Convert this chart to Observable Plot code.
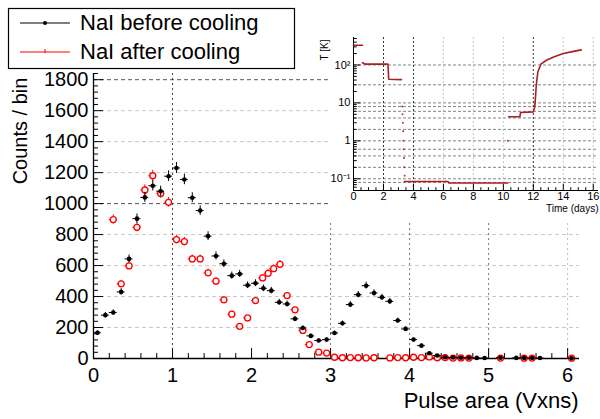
<!DOCTYPE html>
<html><head><meta charset="utf-8">
<script src="https://cdn.jsdelivr.net/npm/d3@7"></script>
<script src="https://cdn.jsdelivr.net/npm/@observablehq/plot@0.6"></script>
<style>
body{margin:0;background:#fff;}
#wrap{position:relative;width:600px;height:419px;overflow:hidden;font-family:"Liberation Sans",Arial,Helvetica,sans-serif;}
#wrap > *{position:absolute;}
</style></head><body><div id="wrap"></div>
<script>
// ---- main histogram: NaI before cooling (black) ----
const beforeArea = [0.05,0.15,0.25,0.35,0.45,0.55,0.65,0.75,0.85,0.95,1.05,1.15,1.25,1.35,1.45,1.55,1.65,1.75,1.85,1.95,2.05,2.15,2.25,2.35,2.45,2.55,2.65,2.75,2.85,2.95,3.05,3.15,3.25,3.35,3.45,3.55,3.65,3.75,3.85,3.95,4.05,4.15,4.25,4.35,4.45,4.55,4.65,4.75,4.85,4.95,5.15,5.35,5.45,5.55,5.65,6.05];
const beforeCounts = [166,280,297,430,643,903,1040,1115,1080,1177,1230,1156,1038,955,790,662,612,535,546,473,486,453,438,363,352,256,197,146,116,122,165,227,348,412,470,423,395,369,245,191,122,83,34,19,8,6,5,5,4,3,5,4,4,3,3,2];
// ---- NaI after cooling (red) ----
const afterArea = [0.25,0.35,0.45,0.55,0.65,0.75,0.85,0.95,1.05,1.15,1.25,1.35,1.45,1.55,1.65,1.75,1.85,1.95,2.05,2.14,2.21,2.28,2.36,2.45,2.55,2.65,2.73,2.85,2.95,3.05,3.15,3.25,3.35,3.45,3.55,3.75,3.85,3.95,4.05,4.15,4.25,4.35,4.45,4.55,4.65,4.75,5.15,5.45,5.55,6.05];
const afterCounts = [897,482,598,847,1088,1180,1066,1008,768,755,643,643,553,499,379,286,208,262,374,520,550,580,608,406,314,181,90,41,35,8,5,6,5,4,5,4,6,5,8,6,10,5,6,3,4,3,3,2,3,2];
const xTicks = [0,1,2,3,4,5,6];
const yTicks = [0,200,400,600,800,1000,1200,1400,1600,1800];
const legendLabels = ["NaI before cooling","NaI after cooling"];
const legendColors = ["#000000","#ff0000"];
const xTitle = "Pulse area (Vxns)";
const yTitle = "Counts / bin";
// ---- inset: temperature history ----
const timeDays = [0,0.6, 0.6,0.8,2.3,2.35,3.2, 3.4,6.3,6.35,10.3, 10.35,11.1,11.15,12.0,12.1,12.2,12.3,12.5,12.9,13.4,14.0,14.6,15.2];
const tempK    = [330,330, 115,105,105,42,41, 0.085,0.085,0.078,0.077, 4.3,4.3,5.6,5.8,8,30,65,105,135,165,200,225,250];
const tempSeg  = [0,0, 1,1,1,1,1, 2,2,2,2, 3,3,3,3,3,3,3,3,3,3,3,3,3];
const dropDays = [3.25,3.27,3.29,3.31,3.33,3.35,3.37,3.39,3.41,10.3];
const dropK    = [8,5,3,1.8,1.0,0.6,0.35,0.2,0.12,1.0];
const timeTicks = [0,2,4,6,8,10,12,14,16];
const tempTicks = [0.1,1,10,100];
const tempTickLabels = ["10\u207B\u00B9","1","10","10\u00B2"];
const insetXTitle = "Time (days)";
const insetYTitle = "T [K]";

const font = '"Liberation Sans",Arial,Helvetica,sans-serif';
const wrap = document.getElementById("wrap");

const before = beforeArea.map((x,i)=>({x, v: beforeCounts[i]}));
const after = afterArea.map((x,i)=>({x, v: afterCounts[i]}));

const minorX = d3.range(0, 6.11, 0.2).filter(v => Math.abs(v - Math.round(v)) > 1e-6);
const minorY = d3.range(0, 1841, 40).filter(v => v % 200 !== 0);

const main = Plot.plot({
  width: 600, height: 419,
  marginLeft: 93, marginRight: 21, marginTop: 73, marginBottom: 61,
  style: {fontFamily: font, fontSize: "20px", background: "transparent", color: "#000"},
  x: {domain: [0, 6.15]},
  y: {domain: [0, 1840]},
  marks: [
    Plot.ruleY(yTicks.filter(v => v > 0 && v !== 1000 && v !== 1800), {stroke: "#c8c8c8", strokeDasharray: "4,3"}),
    Plot.ruleY([1000, 1800], {stroke: "#555", strokeDasharray: "4,3"}),
    Plot.ruleX([1], {stroke: "#444", strokeDasharray: "2,3"}),
    Plot.ruleX([3,4,5], {stroke: "#777", strokeDasharray: "2,3"}),
    Plot.ruleX([6], {stroke: "#bbb", strokeDasharray: "2,3"}),
    Plot.ruleX(xTicks, {y1: 0, y2: 64, stroke: "#000"}),
    Plot.ruleX(minorX, {y1: 0, y2: 32, stroke: "#000"}),
    Plot.ruleY(yTicks, {x1: 0, x2: 0.127, stroke: "#000"}),
    Plot.ruleY(minorY, {x1: 0, x2: 0.063, stroke: "#000"}),
    Plot.ruleX([0], {stroke: "#000", strokeWidth: 1.3}),
    Plot.ruleY([0], {stroke: "#000", strokeWidth: 1.3}),
    // after cooling (red)
    Plot.ruleY(after, {y: "v", x1: d => d.x - 0.05, x2: d => d.x + 0.05, stroke: "#ff0000"}),
    Plot.ruleX(after, {x: "x", y1: d => d.v - Math.sqrt(d.v), y2: d => d.v + Math.sqrt(d.v), stroke: "#ff0000"}),
    Plot.dot(after, {x: "x", y: "v", r: 3, stroke: "#ff0000", fill: "white", strokeWidth: 1.3}),
    // before cooling (black)
    Plot.ruleY(before, {y: "v", x1: d => d.x - 0.05, x2: d => d.x + 0.05, stroke: "#000"}),
    Plot.ruleX(before, {x: "x", y1: d => d.v - Math.sqrt(d.v), y2: d => d.v + Math.sqrt(d.v), stroke: "#000"}),
    Plot.dot(before, {x: "x", y: "v", r: 2.3, fill: "#000"}),
    Plot.axisX(xTicks, {tickSize: 0, tickPadding: 9, label: null, tickFormat: d3.format("d")}),
    Plot.axisY(yTicks, {tickSize: 0, tickPadding: 5, label: null, tickFormat: d3.format("d")}),
    Plot.text([xTitle], {frameAnchor: "bottom-right", textAnchor: "end", dx: -1, dy: 49, fontSize: 22})
  ]
});
main.style.left = "0px"; main.style.top = "0px";
wrap.appendChild(main);

// inset
const temp = timeDays.map((d,i)=>({d, k: tempK[i], s: tempSeg[i]}));
const drop = dropDays.map((d,i)=>({d, k: dropK[i]}));
const gridK = [0.08,0.1,0.2,0.4,0.6,1,2,4,6,8,10,30,100];
const minorK = [];
[0.1,1,10,100].forEach(dec => { for (let m=2;m<=9;m++){ const v=dec*m; if (v<530) minorK.push(v);} });
minorK.push(0.06,0.07,0.08,0.09);
const minorT = d3.range(0, 16.4, 0.5).filter(v => v % 2 !== 0);

const inset = Plot.plot({
  width: 270, height: 220,
  marginLeft: 23, marginRight: 2, marginTop: 37, marginBottom: 30,
  style: {fontFamily: font, fontSize: "11px", background: "white", color: "#000"},
  x: {domain: [0, 16.35]},
  y: {type: "log", domain: [0.049, 530]},
  marks: [
    Plot.ruleY(gridK, {stroke: "#666", strokeDasharray: "3,2", strokeWidth: 0.8}),
    Plot.ruleX([6,8,10,14,16], {stroke: "#bbb", strokeDasharray: "2,2", strokeWidth: 0.8}),
    Plot.ruleX([2,4,12], {stroke: "#333", strokeDasharray: "2,2", strokeWidth: 1}),
    Plot.ruleX(timeTicks, {y1: 0.049, y2: 0.072, stroke: "#000"}),
    Plot.ruleX(minorT, {y1: 0.049, y2: 0.058, stroke: "#000"}),
    Plot.ruleY(tempTicks, {x1: 0, x2: 0.5, stroke: "#000"}),
    Plot.ruleY(minorK, {x1: 0, x2: 0.25, stroke: "#000"}),
    Plot.ruleX([0], {stroke: "#000"}),
    Plot.ruleY([0.049], {stroke: "#000"}),
    Plot.line(temp, {x: "d", y: "k", z: "s", stroke: "#a82020", strokeWidth: 1.6}),
    Plot.dot(drop, {x: "d", y: "k", r: 1, fill: "#c03030"}),
    Plot.axisX(timeTicks, {tickSize: 0, tickPadding: 2, label: null}),
    Plot.axisY(tempTicks, {tickSize: 0, tickPadding: 3, label: null, tickFormat: d => tempTickLabels[tempTicks.indexOf(d)]}),
    Plot.text([insetXTitle], {frameAnchor: "bottom-right", textAnchor: "end", dy: 21, fontSize: 10})
  ]
});
inset.style.left = "330px"; inset.style.top = "0px";
wrap.appendChild(inset);

// axis titles overlay
const ov = d3.create("svg").attr("width", 600).attr("height", 419).style("left","0px").style("top","0px")
  .attr("font-family", font).style("pointer-events", "none");
ov.append("text").attr("transform", "translate(27,131) rotate(-90)").attr("text-anchor", "middle")
  .attr("font-size", 20).attr("fill", "#000").text(yTitle);
ov.append("text").attr("transform", "translate(328,50) rotate(-90)").attr("text-anchor", "middle")
  .attr("font-size", 10).attr("fill", "#000").text(insetYTitle);
wrap.appendChild(ov.node());

// legend
const lg = d3.create("svg").attr("width", 300).attr("height", 75).style("left","0px").style("top","0px");
lg.append("rect").attr("x", 8.5).attr("y", 8.5).attr("width", 286).attr("height", 60)
  .attr("fill", "white").attr("stroke", "#000").attr("stroke-width", 1.2);
legendLabels.forEach((t, i) => {
  const cy = 23 + i * 29;
  lg.append("line").attr("x1", 20).attr("x2", 70).attr("y1", cy).attr("y2", cy).attr("stroke", legendColors[i]).attr("stroke-width", 1.2);
  if (i === 0) lg.append("circle").attr("cx", 45).attr("cy", cy).attr("r", 2).attr("fill", "#000");
  else lg.append("line").attr("x1", 45).attr("x2", 45).attr("y1", cy - 3).attr("y2", cy + 1).attr("stroke", legendColors[i]);
  lg.append("text").attr("x", 80).attr("y", cy + 7).attr("font-size", 22).attr("font-family", font).attr("fill", "#000").text(t);
});
wrap.appendChild(lg.node());
</script></body></html>
